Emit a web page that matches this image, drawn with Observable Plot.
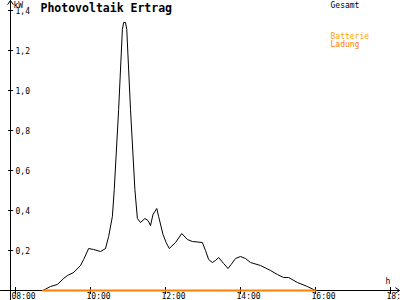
<!DOCTYPE html>
<html><head><meta charset="utf-8">
<script src="https://cdn.jsdelivr.net/npm/d3@7"></script>
<script src="https://cdn.jsdelivr.net/npm/@observablehq/plot@0.6"></script>
<style>html,body{margin:0;padding:0;background:#fff;overflow:hidden} svg{display:block}</style>
</head><body><div id="chart"></div>
<script>
const title = "Photovoltaik Ertrag";
const times = ["08:44","08:56","09:07","09:17","09:23","09:33","09:44","09:49","09:57","10:05","10:16","10:24","10:29","10:35","10:38","10:45","10:51","10:53","10:56","10:58","11:04","11:11","11:15","11:20","11:27","11:32","11:36","11:40","11:46","11:49","11:56","12:01","12:06","12:16","12:26","12:35","12:43","12:59","13:04","13:09","13:15","13:20","13:25","13:33","13:40","13:45","13:52","14:00","14:08","14:16","14:32","14:48","14:59","15:09","15:17","15:31","15:47","16:00"];
const gesamt = [0,0.02,0.03,0.06,0.075,0.09,0.125,0.155,0.21,0.205,0.195,0.21,0.27,0.37,0.505,0.905,1.305,1.34,1.34,1.305,0.905,0.505,0.36,0.34,0.36,0.35,0.325,0.38,0.41,0.37,0.28,0.24,0.21,0.24,0.285,0.255,0.245,0.24,0.2,0.155,0.14,0.15,0.165,0.135,0.11,0.13,0.16,0.17,0.16,0.14,0.125,0.10,0.08,0.065,0.065,0.04,0.02,0];
const ladungTimes = ["08:44","16:00"];
const ladung = [0,0];
const xTicks = ["08:00","10:00","12:00","14:00","16:00","18:00"];
const yTicks = [0.2,0.4,0.6,0.8,1.0,1.2,1.4];
const yTickLabels = ["0,2","0,4","0,6","0,8","1,0","1,2","1,4"];
const legendLabels = ["Gesamt","Batterie","Ladung"];
const legendColors = ["#000000","#ffa500","#ff8000"];
const yUnit = "kW";
const xUnit = "h";

const hours = s => { const [h,m] = s.split(":").map(Number); return h + m/60; };
const xDomain = [8,18], xRange = [15,390];
const yDomain = [0,1.4], yRange = [290,10];
const xs = Plot.scale({x:{domain:xDomain, range:xRange}});
const ys = Plot.scale({y:{domain:yDomain, range:yRange}});
const axisX = xs.invert(10);
const FONT = "DejaVu Sans Mono";

const gData = times.map((t,i)=>({h:hours(t), v:gesamt[i]}));
const lData = ladungTimes.map((t,i)=>({h:hours(t), v:ladung[i]}));
const xt = xTicks.map(t=>({h:hours(t), label:t}));
const yt = yTicks.map((v,i)=>({v, label:yTickLabels[i]}));
const legendDy = [5, 36, 44];
const legendMarks = legendLabels.map((l,i)=>
  Plot.text([l], {frameAnchor:"top-left", dx:330, dy:legendDy[i], fill:legendColors[i], textAnchor:"start", lineAnchor:"middle", fontSize:8, fontFamily:FONT}));

const chart = Plot.plot({
  width:400, height:300, margin:0,
  x:{domain:xDomain, range:xRange, axis:null},
  y:{domain:yDomain, range:yRange, axis:null},
  style:{background:"#fff", fontFamily:FONT},
  marks:[
    Plot.arrow([0], {x1:xs.invert(0), x2:xs.invert(399), y1:0, y2:0, stroke:"#000", strokeWidth:1, headLength:7, headAngle:70}),
    Plot.arrow([0], {x1:axisX, x2:axisX, y1:ys.invert(300), y2:ys.invert(0), stroke:"#000", strokeWidth:1, headLength:7, headAngle:70}),
    Plot.ruleY(yt, {y:"v", x1:xs.invert(8), x2:xs.invert(13), stroke:"#000"}),
    Plot.ruleX(xt, {x:"h", y1:ys.invert(294), y2:ys.invert(287), stroke:"#000"}),
    Plot.text(yt, {x:axisX, y:"v", text:"label", dx:5, dy:1, textAnchor:"start", lineAnchor:"middle", fontSize:8, fontFamily:FONT, fill:"#000"}),
    Plot.text(xt, {x:"h", y:0, text:"label", dx:-4, dy:6, textAnchor:"start", lineAnchor:"middle", fontSize:8, fontFamily:FONT, fill:"#000"}),
    Plot.text([yUnit], {frameAnchor:"top-left", dx:13, dy:5, textAnchor:"start", lineAnchor:"middle", fontSize:8, fontFamily:FONT, fill:"#000"}),
    Plot.text([xUnit], {frameAnchor:"top-left", dx:385, dy:281, textAnchor:"start", lineAnchor:"middle", fontSize:8, fontFamily:FONT, fill:"#000"}),
    Plot.text([title], {frameAnchor:"top-left", dx:40, dy:8, textAnchor:"start", lineAnchor:"middle", fontSize:11.5, fontWeight:"bold", fontFamily:FONT, fill:"#000"}),
    ...legendMarks,
    Plot.line(gData, {x:"h", y:"v", stroke:"#000", strokeWidth:1}),
    Plot.line(lData, {x:"h", y:"v", stroke:"#ff8000", strokeWidth:2})
  ]
});
document.getElementById("chart").appendChild(chart);
</script>
</body></html>
